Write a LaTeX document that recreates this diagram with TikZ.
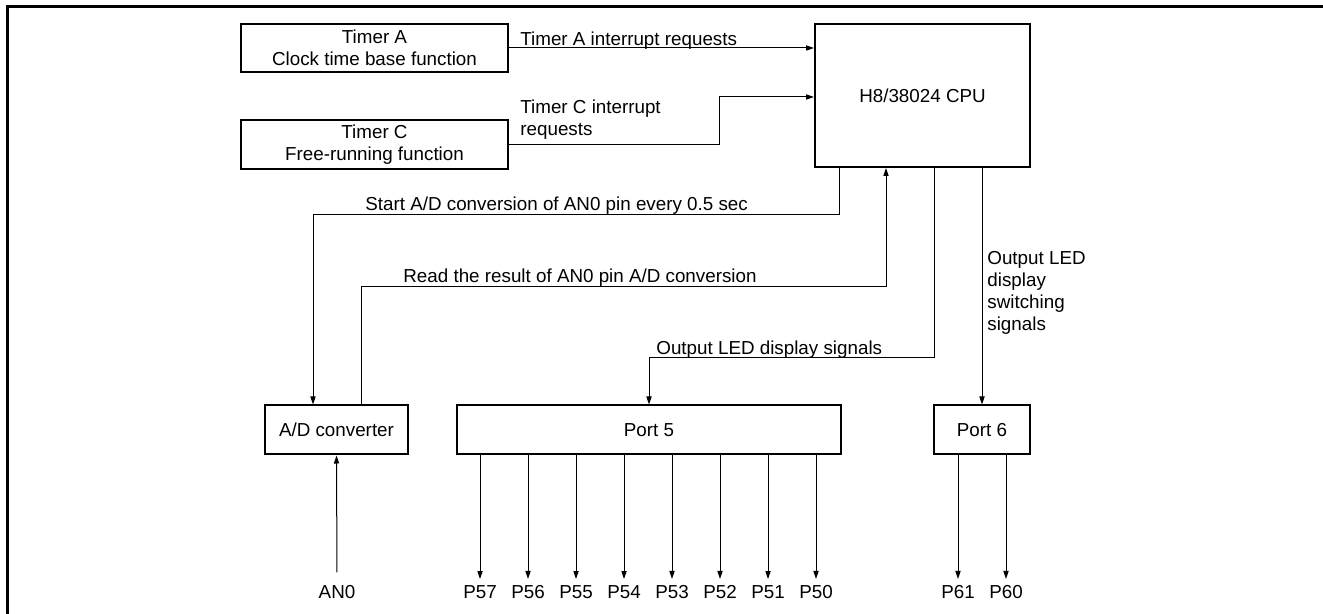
\documentclass[tikz,border=0pt]{standalone}
\usepackage{fontspec}
\setmainfont{Liberation Sans}
\usetikzlibrary{arrows.meta}

\begin{document}
\begin{tikzpicture}[x=0.5pt,y=-0.5pt,
  font=\fontsize{9.4}{10.9}\selectfont,
  block/.style={draw,line width=1pt,inner sep=0pt,align=center,minimum height=24.5pt},
  sig/.style={line width=0.5pt,-{Triangle[length=4pt,width=2.6pt]}},
  lbl/.style={inner sep=0pt},
  pinlbl/.style={inner sep=3pt}]
\useasboundingbox (0,0) rectangle (1323,614);
% frame
\draw[line width=1.2pt] (7.5,614) -- (7.5,6.5) -- (1323,6.5);
% blocks
\node[block,minimum width=133.5pt,minimum height=24.2pt] (tima) at (374.5,48) {Timer A\\Clock time base function};
\node[block,minimum width=133.5pt] (timc) at (374.5,144.5) {Timer C\\Free-running function};
\node[block,minimum width=107.5pt,minimum height=71.5pt] (cpu) at (922.5,95.5) {H8/38024 CPU};
\node[block,minimum width=71.5pt] (adc) at (336.5,430) {A/D converter};
\node[block,minimum width=192pt] (port5) at (649,430) {Port 5};
\node[block,minimum width=48pt] (port6) at (982,430) {Port 6};
% interrupts
\draw[sig] (tima.east) -- (tima.east -| cpu.west);
\node[lbl,anchor=base west] (lta) at (520,45.5) {Timer A interrupt requests};
\draw[sig] (timc.east) -| (719,97) -- (cpu.west |- 0,97);
\node[lbl,anchor=west,align=left] (ltc) at (520,120) {Timer C interrupt\\requests};
% A/D converter
\draw[sig] (cpu.south -| 839,0) |- (313,215) -- (adc.north -| 313,0);
\node[lbl,anchor=base west] (lstart) at (365,210.7) {Start A/D conversion of AN0 pin every 0.5 sec};
\draw[sig] (adc.north -| 361,0) |- (886,287) -- (cpu.south -| 886,0);
\node[lbl,anchor=base west] (lread) at (403,282.7) {Read the result of AN0 pin A/D conversion};
% LED outputs
\draw[sig] (cpu.south -| 934,0) |- (649,358) -- (port5.north);
\node[lbl,anchor=base west] (lled) at (656,354.7) {Output LED display signals};
\draw[sig] (cpu.south -| 982,0) -- (port6.north);
\node[lbl,anchor=west,align=left] (lsw) at (987,293) {Output LED\\display\\switching\\signals};
% pins
\node[pinlbl] (an0) at (337,592) {AN0};
\draw[sig,shorten <=3.3pt] (an0.north) -- (adc.south);
\foreach \n [count=\i from 0] in {7,6,...,0} {
  \node[pinlbl] (p5\n) at ({480+48*\i},592) {P5\n};
  \draw[sig] (port5.south -| p5\n) -- (p5\n.north);
}
\node[pinlbl] (p61) at (958,592) {P61};
\node[pinlbl] (p60) at (1006,592) {P60};
\draw[sig] (port6.south -| p61) -- (p61.north);
\draw[sig] (port6.south -| p60) -- (p60.north);
\end{tikzpicture}
\end{document}
